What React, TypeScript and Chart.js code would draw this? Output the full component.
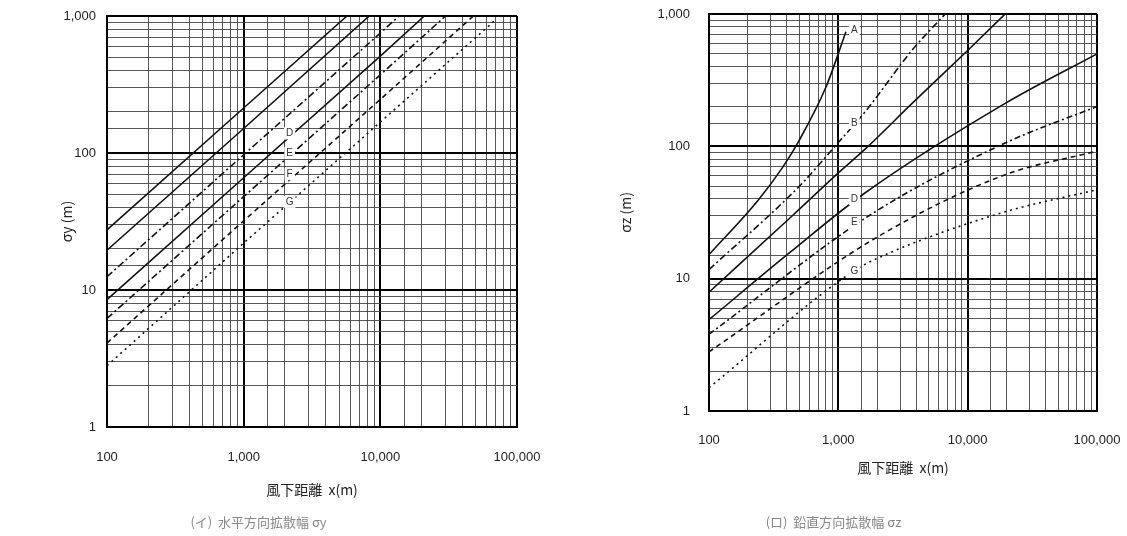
import React, { useEffect, useRef } from 'react';
import { Chart, registerables } from 'chart.js';

Chart.register(...registerables);

// ---------- Left chart: horizontal dispersion σy (m) vs downwind distance x (m) ----------
const syA_x = [100, 1000, 5700];
const syA_v = [27.5, 213, 1000];
const syB_x = [100, 1000, 8300];
const syB_v = [19.5, 151, 1000];
const syC_x = [100, 1000, 10000, 13700];
const syC_v = [12.5, 97, 750, 1000];
const syD_x = [100, 1000, 10000, 21000];
const syD_v = [8.5, 66, 510, 1000];
const syE_x = [100, 1000, 10000, 30000];
const syE_v = [6.2, 48, 372, 1000];
const syF_x = [100, 1000, 10000, 48000];
const syF_v = [4.1, 32, 246, 1000];
const syG_x = [100, 1000, 10000, 70000];
const syG_v = [2.8, 22, 168, 940];

const syLabelText = ['D', 'E', 'F', 'G'];
const syLabelX = [2170, 2170, 2170, 2170];
const syLabelV = [139, 100, 70, 44];

// ---------- Right chart: vertical dispersion σz (m) vs downwind distance x (m) ----------
const szA_x = [100, 239, 373, 501, 804, 1145];
const szA_v = [15.2, 39, 70, 112, 282, 735];
const szB_x = [100, 500, 1000, 1630, 3700, 6700];
const szB_v = [11.7, 50, 107, 185, 530, 1000];
const szC_x = [100, 443, 1000, 1625, 3700, 10000, 19500];
const szC_v = [7.9, 30, 63, 96, 210, 530, 1000];
const szD_x = [100, 420, 1585, 19500, 100000];
const szD_v = [4.9, 15.7, 44, 211, 500];
const szE_x = [100, 1830, 19500, 100000];
const szE_v = [3.8, 31, 106, 200];
const szF_x = [100, 2065, 19500, 100000];
const szF_v = [2.8, 21, 61, 92];
const szG_x = [100, 1330, 2470, 19500, 100000];
const szG_v = [1.5, 11.5, 15.6, 32, 47];

const szLabelText = ['A', 'B', 'D', 'E', 'G'];
const szLabelX = [1330, 1330, 1330, 1330, 1330];
const szLabelV = [757, 150, 40, 26.5, 11.3];

// Axis ranges / texts
const xMin = 100;
const xMax = 100000;
const yMin = 1;
const yMax = 1000;

const xTitle = '風下距離  x(m)';
const leftYTitle = 'σy (m)';
const rightYTitle = 'σz (m)';
const leftCaption = '(イ)  水平方向拡散幅 σy';
const rightCaption = '(ロ)  鉛直方向拡散幅 σz';

// ---------- styles (kept apart from data) ----------
const leftStyles = [
  { name: 'A', dash: [] as number[] },
  { name: 'B', dash: [] as number[] },
  { name: 'C', dash: [7, 3, 2, 3] },
  { name: 'D', dash: [] as number[] },
  { name: 'E', dash: [7, 3, 2, 3] },
  { name: 'F', dash: [5, 4] },
  { name: 'G', dash: [2, 4] },
];
const rightStyles = [
  { name: 'A', dash: [] as number[] },
  { name: 'B', dash: [7, 3, 2, 3] },
  { name: 'C', dash: [] as number[] },
  { name: 'D', dash: [] as number[] },
  { name: 'E', dash: [6, 3, 2, 3] },
  { name: 'F', dash: [5, 4] },
  { name: 'G', dash: [2, 4] },
];

const isDecade = (v: number) => Math.abs(Math.log10(v) - Math.round(Math.log10(v))) < 1e-9;

const tickFont = { family: '"Liberation Sans", Arial, sans-serif', size: 13 };
const titleFont = { family: '"Noto Sans CJK JP", "Liberation Sans", sans-serif', size: 14 };

const curveLabelPlugin = {
  id: 'curveLabels',
  afterDatasetsDraw(chart: any, _args: any, opts: any) {
    if (!opts || !opts.texts) return;
    const { ctx } = chart;
    const xs = chart.scales.x;
    const ys = chart.scales.y;
    ctx.save();
    ctx.font = '10px "Liberation Sans", Arial, sans-serif';
    ctx.textAlign = 'center';
    ctx.textBaseline = 'middle';
    opts.texts.forEach((t: string, i: number) => {
      const px = xs.getPixelForValue(opts.xs[i]);
      const py = ys.getPixelForValue(opts.vs[i]);
      const w = ctx.measureText(t).width + 4;
      ctx.fillStyle = '#ffffff';
      ctx.fillRect(px - w / 2, py - 6, w, 12);
      ctx.fillStyle = '#333';
      ctx.fillText(t, px, py);
    });
    ctx.restore();
  },
};

function buildDatasets(xsList: number[][], vsList: number[][], styles: { name: string; dash: number[] }[], smooth: boolean) {
  return xsList.map((xs, i) => ({
    label: styles[i].name,
    data: xs.map((x, j) => ({ x, y: vsList[i][j] })),
    showLine: true,
    borderColor: '#111',
    borderWidth: 1.6,
    borderDash: styles[i].dash,
    pointRadius: 0,
    fill: false,
    cubicInterpolationMode: smooth ? ('monotone' as const) : ('default' as const),
    tension: 0,
  }));
}

type Geo = {
  yWidth: number;
  xHeight: number;
  padTop: number;
  padRight: number;
  xTickOffset: number;
  xTitlePadBottom: number;
  yTickOffset: number;
  yTitlePadTop: number;
};

function makeConfig(datasets: any[], yTitle: string, caption: string, geo: Geo, labels: any) {
  const gridBase = {
    drawTicks: true,
    tickColor: 'rgba(0,0,0,0)',
    color: (c: any) => (c.tick && isDecade(c.tick.value) ? '#000' : '#444'),
    lineWidth: (c: any) => (c.tick && isDecade(c.tick.value) ? 2 : 0.9),
  };
  return {
    type: 'scatter' as const,
    data: { datasets },
    plugins: [curveLabelPlugin],
    options: {
      animation: false as const,
      responsive: true,
      maintainAspectRatio: false,
      layout: { padding: { left: 0, right: geo.padRight, top: geo.padTop, bottom: 0 } },
      plugins: {
        legend: { display: false },
        tooltip: { enabled: false },
        title: {
          display: true,
          text: caption,
          position: 'bottom' as const,
          color: '#888',
          font: { family: '"Noto Sans CJK JP", sans-serif', size: 13, weight: 'normal' as const },
          padding: { top: 4, bottom: 6 },
        },
        curveLabels: labels,
      },
      scales: {
        x: {
          type: 'logarithmic' as const,
          min: xMin,
          max: xMax,
          afterFit: (s: any) => {
            s.height = geo.xHeight;
          },
          grid: { ...gridBase, tickLength: geo.xTickOffset },
          border: { display: true, color: '#000', width: 2 },
          ticks: {
            autoSkip: false,
            maxRotation: 0,
            padding: 1,
            color: '#222',
            font: tickFont,
            callback: (v: any) => (isDecade(Number(v)) ? Number(v).toLocaleString('en-US') : ''),
          },
          title: {
            display: true,
            text: xTitle,
            color: '#222',
            font: titleFont,
            padding: { top: 0, bottom: geo.xTitlePadBottom },
          },
        },
        y: {
          type: 'logarithmic' as const,
          min: yMin,
          max: yMax,
          afterFit: (s: any) => {
            s.width = geo.yWidth;
          },
          grid: { ...gridBase, tickLength: geo.yTickOffset },
          border: { display: true, color: '#000', width: 2 },
          ticks: {
            autoSkip: false,
            padding: 1,
            color: '#222',
            font: tickFont,
            callback: (v: any) => (isDecade(Number(v)) ? Number(v).toLocaleString('en-US') : ''),
          },
          title: {
            display: true,
            text: yTitle,
            color: '#222',
            font: titleFont,
            padding: { top: geo.yTitlePadTop, bottom: 0 },
          },
        },
      },
    },
  };
}

function PGChart(props: { left: number; width: number; config: any }) {
  const ref = useRef<HTMLCanvasElement | null>(null);
  useEffect(() => {
    if (!ref.current) return;
    const chart = new Chart(ref.current, props.config);
    return () => chart.destroy();
  }, []);
  return (
    <div style={{ position: 'absolute', left: props.left, top: 0, width: props.width, height: 536 }}>
      <canvas ref={ref} />
    </div>
  );
}

export default function App() {
  const leftData = buildDatasets(
    [syA_x, syB_x, syC_x, syD_x, syE_x, syF_x, syG_x],
    [syA_v, syB_v, syC_v, syD_v, syE_v, syF_v, syG_v],
    leftStyles,
    false
  );
  const rightData = buildDatasets(
    [szA_x, szB_x, szC_x, szD_x, szE_x, szF_x, szG_x],
    [szA_v, szB_v, szC_v, szD_v, szE_v, szF_v, szG_v],
    rightStyles,
    true
  );
  const leftCfg = makeConfig(
    leftData,
    leftYTitle,
    leftCaption,
    { yWidth: 107, xHeight: 83.4, padTop: 16, padRight: 43, xTickOffset: 22, xTitlePadBottom: 12, yTickOffset: 10, yTitlePadTop: 58 },
    { texts: syLabelText, xs: syLabelX, vs: syLabelV }
  );
  const rightCfg = makeConfig(
    rightData,
    rightYTitle,
    rightCaption,
    { yWidth: 139, xHeight: 99.4, padTop: 14, padRight: 30, xTickOffset: 21, xTitlePadBottom: 34, yTickOffset: 18, yTitlePadTop: 47 },
    { texts: szLabelText, xs: szLabelX, vs: szLabelV }
  );
  return (
    <div style={{ position: 'absolute', left: 0, top: 0, width: 1127, height: 536, background: '#fff' }}>
      <PGChart left={0} width={560} config={leftCfg} />
      <PGChart left={570} width={557} config={rightCfg} />
    </div>
  );
}
